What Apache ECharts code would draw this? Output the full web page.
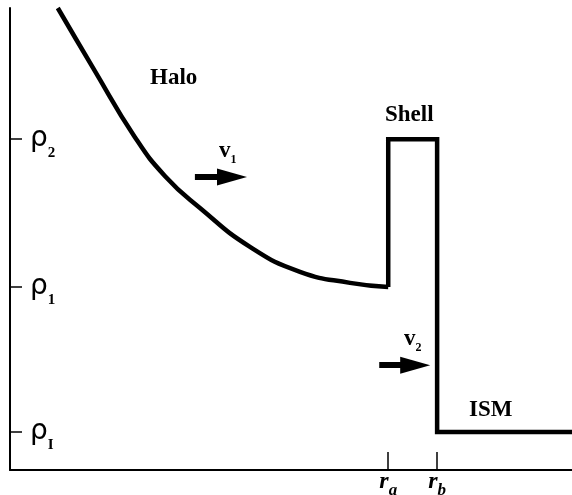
<!DOCTYPE html>
<html>
<head>
<meta charset="utf-8">
<script src="https://cdn.jsdelivr.net/npm/echarts@6/dist/echarts.min.js"></script>
<style>
  html, body { margin: 0; padding: 0; background: #fff; }
  #chart { width: 572px; height: 495px; }
</style>
</head>
<body>
<div id="chart"></div>
<script>
// Density profile: radius and density both in relative units (0-100).
const haloRadius   = [8.5, 14.8, 22.2, 27.6, 33.8, 42.7, 51.6, 60.5, 67.3];
const haloDensity  = [100.0, 87.0, 72.1, 63.6, 56.7, 48.3, 42.9, 40.5, 39.6];
const shellRadius  = [67.3, 67.3, 76.0, 76.0, 100];
const shellDensity = [39.6, 71.6, 71.6, 8.2, 8.2];

// Axis marks
const radiusTicks       = [67.3, 76.0];
const radiusTickNames   = ['a', 'b'];
const densityTicks      = [8.2, 39.6, 71.6];
const densityTickNames  = ['I', '1', '2'];

// Flow arrows: tail radius, arrow-head centre radius, density level
const arrowNames   = ['1', '2'];
const arrowTail    = [32.9, 65.7];
const arrowHead    = [39.5, 72.1];
const arrowLevel   = [63.4, 22.7];

const zip = (xs, ys) => xs.map((x, i) => [x, ys[i]]);

const serif = '"Liberation Serif", "Times New Roman", serif';
const sans = '"DejaVu Sans", "Liberation Sans", sans-serif';

const chart = echarts.init(document.getElementById('chart'), null, { renderer: 'canvas' });

const velocityLabel = n => ({
  text: '{v|v}{s|' + n + '}',
  rich: {
    v: { font: 'bold 23px ' + serif, fill: '#000', lineHeight: 28 },
    s: { font: 'bold 12px ' + serif, fill: '#000', verticalAlign: 'bottom' }
  }
});

chart.setOption({
  animation: false,
  backgroundColor: '#fff',
  grid: { left: 10, right: 0, top: 8, bottom: 25, containLabel: false, outerBoundsMode: 'none' },
  xAxis: {
    type: 'value', min: 0, max: 100,
    axisLine: { show: true, lineStyle: { color: '#000', width: 2 } },
    splitLine: { show: false },
    axisTick: { show: true, inside: true, length: 18, customValues: radiusTicks,
      lineStyle: { color: '#000', width: 1.5 } },
    axisLabel: {
      show: true, customValues: radiusTicks, margin: 0,
      formatter: v => '{r|r}{s|' + radiusTickNames[radiusTicks.indexOf(v)] + '}',
      rich: {
        r: { fontFamily: serif, fontStyle: 'italic', fontWeight: 'bold', fontSize: 24, color: '#000', lineHeight: 29, verticalAlign: 'top' },
        s: { fontFamily: serif, fontStyle: 'italic', fontWeight: 'bold', fontSize: 17, color: '#000', verticalAlign: 'bottom' }
      }
    }
  },
  yAxis: {
    type: 'value', min: 0, max: 100,
    axisLine: { show: true, lineStyle: { color: '#000', width: 2 } },
    splitLine: { show: false },
    axisTick: { show: true, inside: true, length: 12, customValues: densityTicks,
      lineStyle: { color: '#000', width: 1.5 } },
    axisLabel: {
      show: true, inside: true, customValues: densityTicks, margin: 20,
      formatter: v => '{p|ρ}{s|' + densityTickNames[densityTicks.indexOf(v)] + '}',
      rich: {
        p: { fontFamily: sans, fontSize: 28, color: '#000', lineHeight: 42 },
        s: { fontFamily: serif, fontWeight: 'bold', fontSize: 15, color: '#000', verticalAlign: 'bottom' }
      }
    }
  },
  series: [
    {
      name: 'Halo', type: 'line', data: zip(haloRadius, haloDensity),
      smooth: 0.5, showSymbol: false, clip: false,
      lineStyle: { color: '#000', width: 4.5 }
    },
    {
      name: 'Shell', type: 'line', data: zip(shellRadius, shellDensity),
      smooth: false, showSymbol: false, clip: false,
      lineStyle: { color: '#000', width: 4.5, join: 'miter' }
    },
    {
      name: 'flow', type: 'lines', coordinateSystem: 'cartesian2d',
      symbol: ['none', 'none'],
      lineStyle: { color: '#000', width: 6, opacity: 1, curveness: 0 },
      data: arrowNames.map((n, i) => ({
        coords: [[arrowTail[i], arrowLevel[i]], [arrowHead[i], arrowLevel[i]]]
      }))
    },
    {
      name: 'flowHead', type: 'scatter',
      symbol: 'triangle', symbolRotate: -90, symbolSize: [17, 30],
      itemStyle: { color: '#000', opacity: 1 },
      emphasis: { disabled: true },
      data: zip(arrowHead, arrowLevel)
    }
  ],
  graphic: [
    { type: 'text', left: 150, top: 67, style: { text: 'Halo', font: 'bold 23px ' + serif, fill: '#000' } },
    { type: 'text', left: 385, top: 104, style: { text: 'Shell', font: 'bold 23px ' + serif, fill: '#000' } },
    { type: 'text', left: 469, top: 399, style: { text: 'ISM', font: 'bold 23px ' + serif, fill: '#000' } },
    { type: 'text', left: 219, top: 140, style: velocityLabel(arrowNames[0]) },
    { type: 'text', left: 404, top: 328, style: velocityLabel(arrowNames[1]) }
  ]
});
</script>
</body>
</html>
